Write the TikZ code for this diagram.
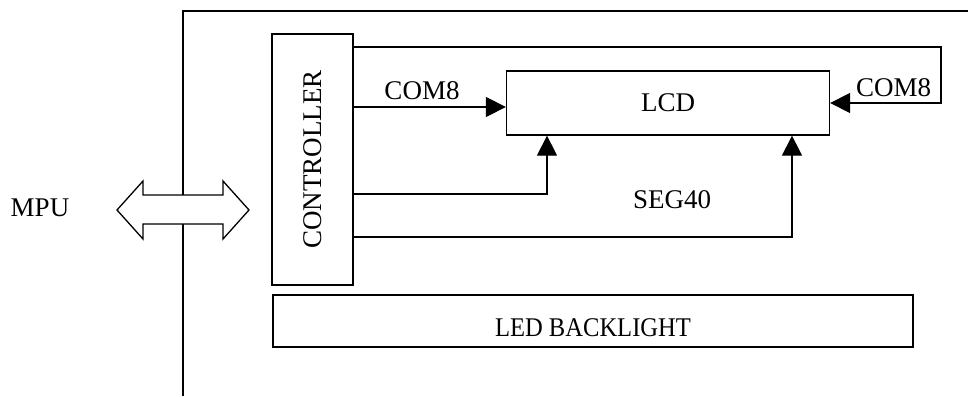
\documentclass[tikz,border=0pt]{standalone}
\usepackage{fontspec}
\usepackage{graphicx}
\setmainfont{Liberation Serif}
\usetikzlibrary{arrows.meta}
\begin{document}
\begin{tikzpicture}[x=1pt,y=-1pt,
  line width=1.3pt,
  lbl/.style={font=\fontsize{27pt}{32pt}\selectfont, inner sep=0pt},
  box/.style={draw, line width=1.3pt, inner sep=0pt, font=\fontsize{27pt}{32pt}\selectfont},
  arr/.style={-{Triangle[length=20pt,width=20pt]}, line width=1.3pt},
  wire/.style={line width=1.3pt}]
\useasboundingbox (0,0) rectangle (968,396);

% outer frame
\coordinate (fb) at (183,396);
\coordinate (ftl) at (183,11);
\coordinate (ftr) at (968,11);
\draw[wire] (fb) -- (ftl) -- (ftr);

% boxes
\node[box, rotate=90, minimum width=251pt, minimum height=81pt] (ctrl) at (312.5,159.5) {CONTROLLER};
\node[box, minimum width=323pt, minimum height=64pt] (lcd) at (668,103) {LCD};
\node[box, minimum width=640pt, minimum height=52pt] (led) at (593,321) {};
\node[lbl, yshift=-6.5pt] (ledt) at (led.center) {\scalebox{0.91}[1]{LED BACKLIGHT}};

% helper coordinates
\coordinate (top) at (0,47);
\coordinate (rc) at (941,103);
\coordinate (c1) at (0,107);
\coordinate (s1) at (547,194);
\coordinate (s2) at (792,237);

% connectors
\draw[arr] (ctrl.south |- top) -| (rc) -- (lcd.east);
\draw[arr] (ctrl.south |- c1) -- (lcd.west |- c1);
\draw[arr] (ctrl.south |- s1) -- (s1) -- (s1 |- lcd.south);
\draw[arr] (ctrl.south |- s2) -- (s2) -- (s2 |- lcd.south);

% labels
\node[lbl] (com8l) at (422,91) {COM8};
\node[lbl] (com8r) at (893.5,87.5) {COM8};
\node[lbl] (seg) at (672,199.5) {SEG40};
\node[lbl] (mpu) at (40,207.5) {MPU};

% double arrow
\coordinate (a1) at (117,210);
\coordinate (a2) at (143,181);
\coordinate (a3) at (143,195);
\coordinate (a4) at (223,195);
\coordinate (a5) at (223,181);
\coordinate (a6) at (249,210);
\coordinate (a7) at (223,239);
\coordinate (a8) at (223,224);
\coordinate (a9) at (143,224);
\coordinate (a10) at (143,239);
\draw[wire, fill=white, line join=miter] (a1) -- (a2) -- (a3) -- (a4) -- (a5) -- (a6) -- (a7) -- (a8) -- (a9) -- (a10) -- cycle;
\end{tikzpicture}
\end{document}
